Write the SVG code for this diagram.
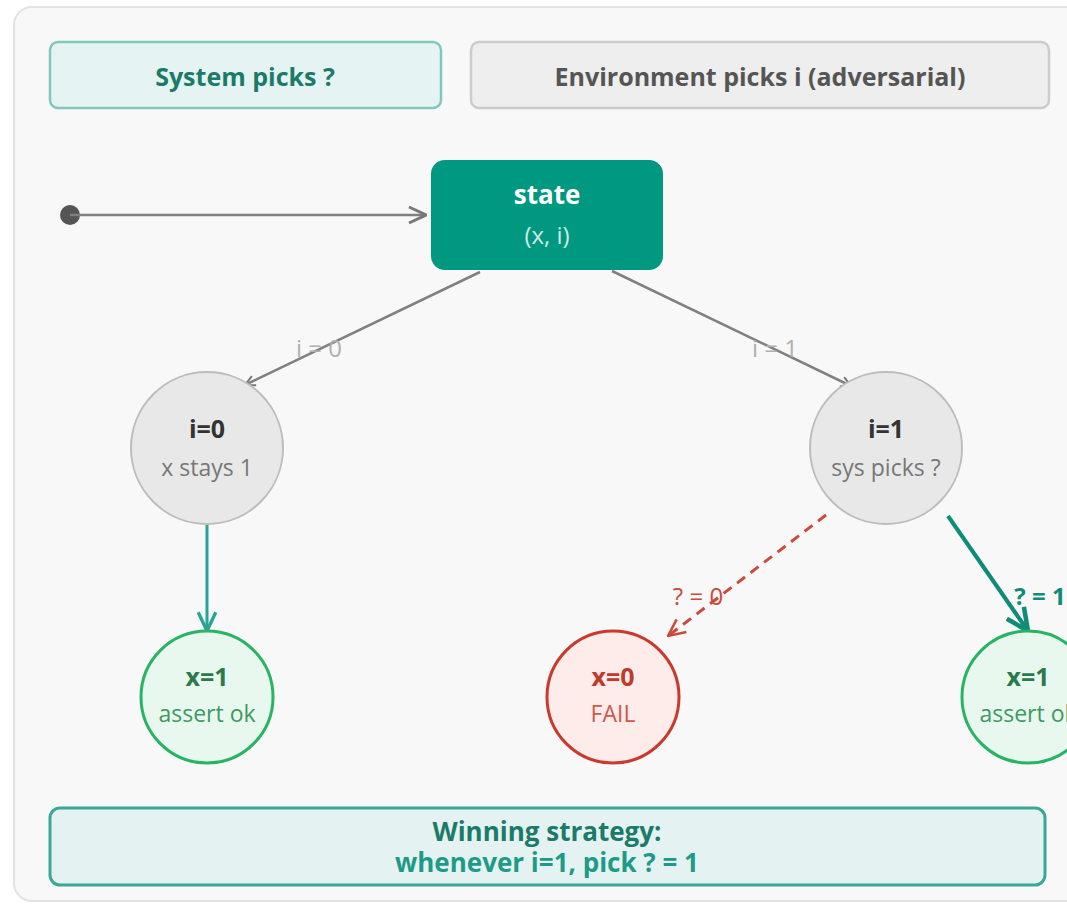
<svg xmlns="http://www.w3.org/2000/svg" width="1067" height="904" viewBox="0 0 1067 904">
  <style>
    text { font-family: "Open Sans", "Noto Sans", "DejaVu Sans", sans-serif; text-anchor: middle; }
    .b { font-weight: bold; }
    .title { font-size: 25px; }
    .lbl { font-size: 25px; }
    .sub { font-size: 23px; }
    .elbl { font-size: 24px; }
    .sum { font-size: 26px; font-weight: bold; }
    .gray-node { fill: #e8e8e8; stroke: #bdbdbd; stroke-width: 2; }
    .ok-node { fill: #e9f8ef; stroke: #27b463; stroke-width: 3; }
    .fail-node { fill: #fdecea; stroke: #c9392c; stroke-width: 3; }
    .edge { fill: none; stroke: #808080; stroke-width: 2.5; }
  </style>
  <defs>
    <marker id="arrGray" viewBox="0 0 12 12" refX="11" refY="6" markerWidth="12" markerHeight="12" markerUnits="userSpaceOnUse" orient="auto">
      <path d="M1,1 L11,6 L1,11" fill="none" stroke="#777" stroke-width="2"/>
    </marker>
    <marker id="arrBig" viewBox="0 0 20 20" refX="19" refY="10" markerWidth="20" markerHeight="20" markerUnits="userSpaceOnUse" orient="auto">
      <path d="M2,2 L19,10 L2,18" fill="none" stroke="#777" stroke-width="3"/>
    </marker>
    <marker id="arrTeal" viewBox="0 0 20 20" refX="19" refY="10" markerWidth="22" markerHeight="22" markerUnits="userSpaceOnUse" orient="auto">
      <path d="M2,2 L19,10 L2,18" fill="none" stroke="#26a596" stroke-width="3"/>
    </marker>
    <marker id="arrTealDark" viewBox="0 0 20 20" refX="19" refY="10" markerWidth="26" markerHeight="26" markerUnits="userSpaceOnUse" orient="auto">
      <path d="M2,2 L19,10 L2,18" fill="none" stroke="#0f8c78" stroke-width="3.5"/>
    </marker>
    <marker id="arrRed" viewBox="0 0 20 20" refX="19" refY="10" markerWidth="20" markerHeight="20" markerUnits="userSpaceOnUse" orient="auto">
      <path d="M2,2 L19,10 L2,18" fill="none" stroke="#cc4a3c" stroke-width="2.5"/>
    </marker>
  </defs>

  <!-- canvas -->
  <rect x="0" y="0" width="1067" height="904" fill="#ffffff"/>
  <rect x="14" y="7" width="1080" height="894" rx="18" fill="#f8f8f8" stroke="#e2e2e2" stroke-width="2"/>

  <!-- legend boxes -->
  <g id="legend-system">
    <rect x="50" y="42" width="391" height="66" rx="8" fill="#e5f4f2" stroke="#7fc9bc" stroke-width="2.5"/>
    <text x="245" y="86" class="b title" fill="#1b7a6a">System picks ?</text>
  </g>
  <g id="legend-env">
    <rect x="471" y="42" width="578" height="66" rx="8" fill="#eeeeee" stroke="#cccccc" stroke-width="2.5"/>
    <text x="760" y="86" class="b title" fill="#555555">Environment picks i (adversarial)</text>
  </g>

  <!-- connectors -->
  <g id="connectors">
    <circle cx="70" cy="215" r="10" fill="#555555"/>
    <line x1="70" y1="215" x2="426" y2="215" class="edge" stroke-width="3" marker-end="url(#arrBig)"/>

    <line x1="480" y1="272" x2="245" y2="385" class="edge" marker-end="url(#arrGray)"/>
    <text x="319" y="357" class="elbl" fill="#b0b0b0">i = 0</text>

    <line x1="612" y1="271" x2="851" y2="386" class="edge" marker-end="url(#arrGray)"/>
    <text x="775" y="357" class="elbl" fill="#b0b0b0">i = 1</text>

    <line x1="207" y1="525" x2="207" y2="631" fill="none" stroke="#26a596" stroke-width="3" marker-end="url(#arrTeal)"/>

    <line x1="826" y1="515" x2="668" y2="636" fill="none" stroke="#cc4a3c" stroke-width="3" stroke-dasharray="10,7" marker-end="url(#arrRed)"/>
    <text x="698" y="605" class="elbl" fill="#cc4a3c">? = 0</text>

    <line x1="948" y1="516" x2="1028" y2="631" fill="none" stroke="#0f8c78" stroke-width="4" marker-end="url(#arrTealDark)"/>
    <text x="1040" y="605" class="b elbl" fill="#0f8c78">? = 1</text>
  </g>

  <!-- nodes -->
  <g id="node-state">
    <rect x="431" y="160" width="232" height="110" rx="14" fill="#009880"/>
    <text x="547" y="204" class="b" font-size="26" fill="#ffffff">state</text>
    <text x="547" y="244" font-size="24" fill="#cfeae5">(x, i)</text>
  </g>

  <g id="node-i0">
    <circle cx="207" cy="448" r="76" class="gray-node"/>
    <text x="207" y="438" class="b lbl" fill="#333333">i=0</text>
    <text x="207" y="476" class="sub" fill="#777777">x stays 1</text>
  </g>

  <g id="node-i1">
    <circle cx="886" cy="448" r="76" class="gray-node"/>
    <text x="886" y="438" class="b lbl" fill="#333333">i=1</text>
    <text x="886" y="476" class="sub" fill="#777777">sys picks ?</text>
  </g>

  <g id="node-ok-left">
    <circle cx="207" cy="697" r="66" class="ok-node"/>
    <text x="207" y="686" class="b lbl" fill="#2a7a4c">x=1</text>
    <text x="207" y="722" class="sub" fill="#3c9a62">assert ok</text>
  </g>

  <g id="node-fail">
    <circle cx="613" cy="697" r="66" class="fail-node"/>
    <text x="613" y="686" class="b lbl" fill="#c0392b">x=0</text>
    <text x="613" y="722" class="sub" fill="#d0574a">FAIL</text>
  </g>

  <g id="node-ok-right">
    <circle cx="1028" cy="697" r="66" class="ok-node"/>
    <text x="1028" y="686" class="b lbl" fill="#2a7a4c">x=1</text>
    <text x="1028" y="722" class="sub" fill="#3c9a62">assert ok</text>
  </g>

  <!-- summary -->
  <g id="summary">
    <rect x="50" y="808" width="995" height="77" rx="10" fill="#e4f3f1" stroke="#3aa896" stroke-width="3"/>
    <text x="547" y="841" class="sum" fill="#1b7a6a">Winning strategy:</text>
    <text x="547" y="872" class="sum" fill="#1e9a88">whenever i=1, pick ? = 1</text>
  </g>
</svg>
